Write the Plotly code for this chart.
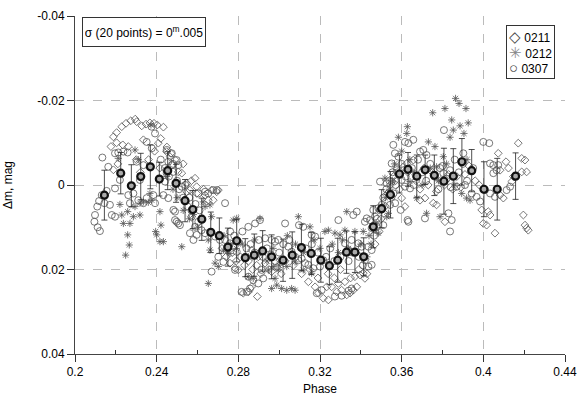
import plotly.graph_objects as go

# ---- data: series 0211 (diamonds) ----
d_pts = [(0.2176,-0.0091),(0.2188,-0.0114),(0.2204,-0.0124),(0.2204,-0.0100),(0.2229,-0.0138),(0.2234,-0.0095),
(0.2250,-0.0146),(0.2261,-0.0091),(0.2273,-0.0152),(0.2295,-0.0156),(0.2302,-0.0150),(0.2327,-0.0140),(0.2335,-0.0107),
(0.2348,-0.0144),(0.2367,-0.0147),(0.2387,-0.0146),(0.2403,-0.0142),(0.2408,-0.0099),(0.2433,-0.0137),(0.2449,-0.0079),
(0.2465,-0.0067),(0.2188,-0.0036),(0.2210,-0.0050),(0.2300,-0.0060),(0.2320,-0.0030),(0.2360,-0.0060),(0.2390,-0.0080),
(0.2420,-0.0110),(0.2415,-0.0040),(0.2450,-0.0090),(0.2470,-0.0075),(0.2490,-0.0060),(0.2506,-0.0031),(0.2523,-0.0028),
(0.2530,-0.0050),(0.2547,-0.0004),(0.2547,0.0016),(0.2563,0.0012),(0.2570,-0.0010),(0.2588,-0.0016),(0.2596,0.0004),
(0.2596,0.0020),(0.2637,0.0024),(0.2653,0.0036),(0.2669,0.0012),(0.2677,0.0036),(0.2694,0.0016),(0.2702,0.0012),
(0.2630,0.0010),(0.2720,0.0150),(0.2740,0.0170),(0.2759,0.0185),(0.2770,0.0160),(0.2784,0.0197),(0.2790,0.0180),
(0.2800,0.0201),(0.2810,0.0170),(0.2824,0.0256),(0.2830,0.0190),(0.2849,0.0253),(0.2850,0.0180),(0.2865,0.0241),
(0.2865,0.0154),(0.2870,0.0200),(0.2890,0.0190),(0.2893,0.0264),(0.2898,0.0170),(0.2910,0.0210),(0.2931,0.0185),
(0.2950,0.0200),(0.2963,0.0205),(0.2990,0.0195),(0.3004,0.0178),(0.3010,0.0210),(0.3030,0.0180),(0.3070,0.0190),
(0.3110,0.0210),(0.3143,0.0229),(0.3150,0.0200),(0.3176,0.0241),(0.3190,0.0220),(0.3192,0.0256),(0.3216,0.0268),
(0.3233,0.0241),(0.3240,0.0210),(0.3241,0.0272),(0.3257,0.0241),(0.3270,0.0220),(0.3282,0.0253),(0.3290,0.0233),
(0.3300,0.0200),(0.3306,0.0249),(0.3322,0.0229),(0.3331,0.0260),(0.3347,0.0256),(0.3350,0.0220),(0.3363,0.0249),
(0.3371,0.0217),(0.3380,0.0241),(0.3390,0.0200),(0.3396,0.0213),(0.3412,0.0209),(0.3420,0.0221),(0.3430,0.0210),
(0.3470,0.0140),(0.3490,0.0110),(0.3500,0.0080),(0.3520,0.0050),(0.3530,0.0020),(0.3545,0.0000),(0.3560,-0.0020),
(0.3575,-0.0040),(0.3600,0.0031),(0.3616,0.0051),(0.3570,-0.0010),(0.3590,0.0010),(0.3608,-0.0043),(0.3625,-0.0051),
(0.3630,-0.0030),(0.3657,-0.0059),(0.3670,-0.0010),(0.3690,0.0036),(0.3690,0.0010),(0.3710,-0.0040),(0.3714,0.0031),
(0.3730,0.0000),(0.3750,-0.0030),(0.3755,0.0043),(0.3770,0.0015),(0.3771,0.0047),(0.3790,-0.0010),(0.3810,0.0000),
(0.3812,0.0087),(0.3830,-0.0025),(0.3850,0.0010),(0.3870,-0.0020),(0.3890,0.0005),(0.3910,-0.0025),(0.3930,-0.0045),
(0.3960,-0.0010),(0.3980,0.0000),(0.3992,0.0059),(0.4000,0.0091),(0.4016,0.0095),(0.4024,0.0063),(0.4033,0.0071),
(0.4057,0.0114),(0.4073,-0.0075),(0.4082,-0.0035),(0.4082,0.0024),(0.4098,0.0031),(0.4111,-0.0055),(0.4123,-0.0040),
(0.4139,-0.0008),(0.4147,-0.0020),(0.4171,-0.0099),(0.4188,-0.0063),(0.4188,-0.0031),(0.4196,0.0071),(0.4204,-0.0059),
(0.4204,0.0095),(0.4212,-0.0031),(0.4212,0.0102),(0.4220,0.0107)]

# ---- data: series 0212 (asterisks) ----
s_pts = [(0.2212,-0.0063),(0.2220,0.0046),(0.2229,0.0071),(0.2237,0.0091),(0.2258,0.0063),(0.2258,0.0118),(0.2266,0.0142),
(0.2248,0.0166),(0.2269,0.0091),(0.2286,0.0075),(0.2294,0.0051),(0.2294,-0.0083),(0.2310,-0.0060),(0.2318,0.0071),
(0.2318,0.0043),(0.2335,0.0040),(0.2359,0.0041),(0.2367,0.0020),(0.2376,0.0036),(0.2372,-0.0142),(0.2416,0.0063),
(0.2421,0.0095),(0.2395,0.0110),(0.2400,0.0118),(0.2416,0.0134),(0.2433,0.0134),(0.2523,0.0146),(0.2450,-0.0020),
(0.2480,0.0010),(0.2500,0.0030),(0.2530,0.0060),(0.2560,0.0080),(0.2580,0.0070),(0.2600,0.0100),(0.2628,0.0040),
(0.2637,0.0051),(0.2661,0.0047),(0.2669,0.0075),(0.2653,0.0130),(0.2661,0.0154),(0.2653,0.0233),(0.2686,0.0185),
(0.2702,0.0193),(0.2727,0.0154),(0.2743,0.0158),(0.2759,0.0162),(0.2775,0.0083),(0.2792,0.0079),(0.2730,0.0120),
(0.2760,0.0140),(0.2790,0.0150),(0.2820,0.0140),(0.2849,0.0217),(0.2873,0.0221),(0.2850,0.0170),(0.2880,0.0130),
(0.2906,0.0079),(0.2910,0.0160),(0.2940,0.0180),(0.2947,0.0201),(0.2963,0.0245),(0.2970,0.0150),(0.2971,0.0193),
(0.2980,0.0221),(0.2988,0.0237),(0.2996,0.0201),(0.3000,0.0190),(0.3012,0.0245),(0.3037,0.0249),(0.3037,0.0193),
(0.3040,0.0120),(0.3061,0.0245),(0.3078,0.0249),(0.3078,0.0182),(0.3080,0.0140),(0.3094,0.0075),(0.3118,0.0201),
(0.3120,0.0160),(0.3151,0.0099),(0.3159,0.0209),(0.3170,0.0130),(0.3200,0.0150),(0.3224,0.0110),(0.3241,0.0107),
(0.3260,0.0140),(0.3273,0.0114),(0.3290,0.0160),(0.3298,0.0118),(0.3310,0.0130),(0.3322,0.0107),(0.3331,0.0063),
(0.3340,0.0150),(0.3371,0.0110),(0.3380,0.0160),(0.3400,0.0140),(0.3412,0.0110),(0.3430,0.0170),(0.3440,0.0120),
(0.3450,0.0140),(0.3469,0.0107),(0.3475,0.0090),(0.3486,0.0114),(0.3505,0.0050),(0.3520,0.0030),(0.3527,0.0075),
(0.3535,0.0067),(0.3540,0.0010),(0.3518,-0.0016),(0.3555,-0.0010),(0.3565,-0.0050),(0.3584,-0.0113),(0.3600,-0.0080),
(0.3625,-0.0122),(0.3628,-0.0138),(0.3640,-0.0060),(0.3641,-0.0008),(0.3660,-0.0030),(0.3674,0.0031),(0.3700,0.0000),
(0.3722,0.0067),(0.3731,-0.0102),(0.3740,-0.0040),(0.3752,-0.0171),(0.3763,-0.0091),(0.3771,-0.0043),(0.3780,-0.0010),
(0.3788,0.0075),(0.3804,-0.0067),(0.3812,-0.0181),(0.3820,-0.0050),(0.3837,-0.0113),(0.3845,-0.0154),(0.3853,-0.0130),
(0.3860,0.0000),(0.3864,-0.0205),(0.3881,-0.0193),(0.3886,-0.0140),(0.3894,0.0020),(0.3905,-0.0122),(0.3915,-0.0181),
(0.3918,0.0031),(0.3920,-0.0060),(0.3926,-0.0147),(0.3935,0.0036)]

# ---- data: series 0307 (circles) ----
c_pts = [(0.2095,0.0087),(0.2098,0.0071),(0.2109,0.0051),(0.2111,0.0100),(0.2118,0.0038),(0.2122,0.0109),(0.2131,0.0024),
(0.2134,-0.0065),(0.2144,0.0043),(0.2155,0.0014),(0.2163,-0.0043),(0.2171,0.0047),(0.2180,0.0071),(0.2196,0.0075),
(0.2196,-0.0075),(0.2196,0.0008),(0.2212,-0.0077),(0.2220,-0.0012),(0.2237,-0.0079),(0.2258,-0.0077),(0.2261,0.0024),
(0.2269,0.0043),(0.2286,0.0020),(0.2302,-0.0055),(0.2310,0.0036),(0.2318,-0.0012),(0.2335,-0.0047),(0.2335,0.0043),
(0.2351,0.0031),(0.2351,-0.0102),(0.2375,-0.0138),(0.2376,-0.0087),(0.2392,-0.0122),(0.2384,0.0024),(0.2392,0.0043),
(0.2433,0.0024),(0.2441,-0.0008),(0.2457,0.0031),(0.2457,-0.0055),(0.2474,-0.0047),(0.2481,-0.0031),(0.2490,0.0063),
(0.2498,0.0087),(0.2514,0.0095),(0.2420,-0.0060),(0.2440,-0.0040),(0.2449,-0.0083),(0.2449,-0.0028),(0.2460,-0.0020),
(0.2474,-0.0075),(0.2480,-0.0050),(0.2482,0.0059),(0.2490,0.0083),(0.2498,-0.0059),(0.2500,-0.0010),(0.2506,-0.0047),
(0.2506,0.0091),(0.2510,0.0010),(0.2523,0.0004),(0.2530,0.0030),(0.2540,0.0000),(0.2550,0.0050),(0.2560,0.0030),
(0.2563,0.0114),(0.2570,0.0060),(0.2571,0.0075),(0.2580,0.0130),(0.2588,0.0099),(0.2590,0.0045),(0.2596,0.0118),
(0.2604,0.0020),(0.2604,0.0087),(0.2610,0.0060),(0.2620,0.0107),(0.2620,0.0080),(0.2637,0.0016),(0.2637,0.0114),
(0.2653,0.0020),(0.2669,0.0205),(0.2677,0.0012),(0.2686,0.0122),(0.2694,0.0012),(0.2702,0.0170),(0.2710,0.0130),
(0.2727,0.0182),(0.2735,0.0043),(0.2735,0.0130),(0.2759,0.0138),(0.2760,0.0110),(0.2775,0.0146),(0.2780,0.0120),
(0.2784,0.0201),(0.2792,0.0158),(0.2800,0.0135),(0.2816,0.0253),(0.2820,0.0110),(0.2840,0.0150),(0.2841,0.0253),
(0.2849,0.0099),(0.2849,0.0217),(0.2857,0.0245),(0.2860,0.0140),(0.2873,0.0225),(0.2880,0.0160),(0.2882,0.0091),
(0.2898,0.0233),(0.2900,0.0130),(0.2906,0.0083),(0.2914,0.0201),(0.2920,0.0170),(0.2922,0.0221),(0.2931,0.0126),
(0.2940,0.0150),(0.2960,0.0165),(0.2963,0.0130),(0.2980,0.0134),(0.2980,0.0180),(0.2996,0.0130),(0.3000,0.0160),
(0.3020,0.0140),(0.3029,0.0091),(0.3045,0.0146),(0.3050,0.0130),(0.3061,0.0158),(0.3078,0.0170),(0.3094,0.0178),
(0.3097,0.0095),(0.3110,0.0174),(0.3118,0.0099),(0.3127,0.0185),(0.3130,0.0150),(0.3143,0.0189),(0.3159,0.0118),
(0.3160,0.0140),(0.3167,0.0197),(0.3176,0.0122),(0.3184,0.0256),(0.3190,0.0160),(0.3200,0.0193),(0.3208,0.0249),
(0.3216,0.0178),(0.3230,0.0170),(0.3250,0.0150),(0.3270,0.0180),(0.3273,0.0264),(0.3290,0.0083),(0.3300,0.0170),
(0.3306,0.0262),(0.3322,0.0138),(0.3339,0.0154),(0.3340,0.0180),(0.3340,0.0250),(0.3355,0.0130),(0.3355,0.0245),
(0.3360,0.0160),(0.3363,0.0071),(0.3380,0.0063),(0.3388,0.0138),(0.3390,0.0170),(0.3404,0.0146),(0.3410,0.0190),
(0.3420,0.0178),(0.3420,0.0087),(0.3429,0.0079),(0.3437,0.0146),(0.3437,0.0193),(0.3445,0.0083),(0.3453,0.0154),
(0.3453,0.0189),(0.3453,0.0102),(0.3461,0.0059),(0.3465,0.0120),(0.3469,0.0075),(0.3478,0.0099),(0.3480,0.0080),
(0.3486,0.0055),(0.3494,-0.0008),(0.3495,0.0060),(0.3502,0.0047),(0.3510,0.0095),(0.3510,0.0030),(0.3525,0.0010),
(0.3527,-0.0004),(0.3535,0.0020),(0.3540,-0.0010),(0.3543,0.0047),(0.3551,-0.0008),(0.3551,0.0028),(0.3551,-0.0051),
(0.3555,-0.0030),(0.3559,-0.0095),(0.3560,0.0020),(0.3567,-0.0075),(0.3568,0.0043),(0.3570,0.0000),(0.3576,-0.0035),
(0.3584,-0.0067),(0.3592,-0.0024),(0.3595,0.0059),(0.3580,-0.0030),(0.3600,-0.0050),(0.3600,-0.0012),(0.3616,-0.0102),
(0.3616,0.0004),(0.3620,-0.0020),(0.3629,0.0083),(0.3633,-0.0099),(0.3633,0.0087),(0.3641,0.0008),(0.3650,-0.0040),
(0.3657,-0.0107),(0.3660,0.0000),(0.3680,-0.0060),(0.3690,-0.0079),(0.3700,-0.0030),(0.3706,-0.0083),(0.3714,0.0079),
(0.3720,-0.0010),(0.3722,-0.0071),(0.3740,-0.0050),(0.3760,-0.0020),(0.3780,0.0010),(0.3788,-0.0040),(0.3800,-0.0045),
(0.3804,-0.0028),(0.3807,-0.0130),(0.3820,-0.0015),(0.3829,0.0067),(0.3837,-0.0035),(0.3837,0.0110),(0.3840,0.0005),
(0.3845,0.0083),(0.3860,-0.0060),(0.3869,0.0004),(0.3880,-0.0030),(0.3900,-0.0050),(0.3902,-0.0075),(0.3910,0.0000),
(0.3920,-0.0010),(0.3943,0.0020),(0.3950,-0.0040),(0.3967,0.0028),(0.3984,0.0039),(0.4000,-0.0102),(0.4008,0.0012),
(0.4029,-0.0099),(0.4033,-0.0051),(0.4033,0.0020),(0.4049,-0.0028),(0.4049,-0.0047),(0.4057,0.0028),(0.4065,-0.0035),
(0.4073,-0.0047),(0.4114,0.0012),(0.4131,0.0004)]

# ---- data: 20-point binned means with sigma ----
bin_phase = [0.2144,0.2224,0.2276,0.2322,0.2369,0.2413,0.2454,0.2495,0.2539,0.2577,0.2621,0.2665,0.2707,0.2749,
             0.2792,0.2834,0.2878,0.2919,0.2963,0.3019,0.3064,0.3109,0.3157,0.3204,0.3246,0.3287,0.3330,0.3371,
             0.3414,0.3461,0.3502,0.3545,0.3589,0.3631,0.3674,0.3715,0.3760,0.3807,0.3853,0.3895,0.3943,0.4003,
             0.4068,0.4158]
bin_mag = [0.0024,-0.0028,0.0002,-0.0020,-0.0043,-0.0014,-0.0034,-0.0004,0.0037,0.0058,0.0081,0.0112,0.0120,0.0147,
           0.0132,0.0172,0.0166,0.0156,0.0170,0.0178,0.0166,0.0148,0.0162,0.0178,0.0191,0.0178,0.0159,0.0159,
           0.0170,0.0099,0.0056,0.0023,-0.0026,-0.0037,-0.0021,-0.0036,-0.0023,-0.0009,-0.0021,-0.0055,-0.0034,0.0010,
           0.0010,-0.0021]
bin_err = [0.0059,0.0049,0.0050,0.0055,0.0052,0.0040,0.0045,0.0045,0.0050,0.0045,0.0050,0.0048,0.0042,0.0045,
           0.0050,0.0045,0.0050,0.0048,0.0052,0.0050,0.0055,0.0055,0.0050,0.0052,0.0045,0.0052,0.0050,0.0048,
           0.0045,0.0050,0.0045,0.0055,0.0045,0.0040,0.0050,0.0035,0.0048,0.0078,0.0065,0.0055,0.0050,0.0065,
           0.0073,0.0055]

series_names = ["0211", "0212", "0307"]
legend_glyphs = ["◇", "✳", "○"]
x_ticks = [0.2, 0.24, 0.28, 0.32, 0.36, 0.4, 0.44]
x_ticktext = ["0.2", "0.24", "0.28", "0.32", "0.36", "0.4", "0.44"]
x_minor = [0.22, 0.26, 0.30, 0.34, 0.38, 0.42]
y_ticks = [-0.04, -0.02, 0, 0.02, 0.04]
y_ticktext = ["-0.04", "-0.02", "0", "0.02", "0.04"]

FONT = "Liberation Sans, Arial, sans-serif"
PT = "#555555"

fig = go.Figure()
fig.add_trace(go.Scatter(
    x=[p[0] for p in d_pts], y=[p[1] for p in d_pts], mode="markers", name=series_names[0],
    marker=dict(symbol="diamond-open", size=6, color=PT, line=dict(width=0.8, color=PT))))
fig.add_trace(go.Scatter(
    x=[p[0] for p in s_pts], y=[p[1] for p in s_pts], mode="markers", name=series_names[1],
    marker=dict(symbol="asterisk-open", size=6, color=PT, line=dict(width=0.8, color=PT))))
fig.add_trace(go.Scatter(
    x=[p[0] for p in c_pts], y=[p[1] for p in c_pts], mode="markers", name=series_names[2],
    marker=dict(symbol="circle-open", size=7, color=PT, line=dict(width=0.8, color=PT))))
fig.add_trace(go.Scatter(
    x=bin_phase, y=bin_mag, mode="markers", showlegend=False, name="mean (20 points)",
    error_y=dict(type="data", array=bin_err, visible=True, color="#222222", thickness=0.8, width=3),
    marker=dict(symbol="circle", size=7, color="#aaaaaa", line=dict(width=2.2, color="#111111"))))

glyph_colors = ["#444", "#888", "#444"]
legend_text = "<br>".join(
    f"<span style='font-size:15px;color:{c}'>{g}</span> {n}"
    for g, c, n in zip(legend_glyphs, glyph_colors, series_names))

fig.update_layout(
    width=580, height=405,
    margin=dict(l=75, r=15, t=16, b=51, autoexpand=False),
    paper_bgcolor="white", plot_bgcolor="white",
    font=dict(family=FONT, size=12, color="black"),
    showlegend=False,
    annotations=[
        dict(text="σ (20 points) = 0<sup>m</sup>.005", xref="paper", yref="paper",
             x=0.0143, y=0.997, xanchor="left", yanchor="top", showarrow=False,
             width=118, height=24, align="center", valign="middle",
             font=dict(size=12, family=FONT), bordercolor="#333333", borderwidth=1,
             borderpad=2, bgcolor="white"),
        dict(text=legend_text, xref="paper", yref="paper",
             x=0.9796, y=0.973, xanchor="right", yanchor="top", showarrow=False,
             align="left", font=dict(size=12, family=FONT), bordercolor="#333333",
             borderwidth=1, borderpad=2, bgcolor="white"),
    ],
)
fig.update_xaxes(
    range=[0.2, 0.44], tickmode="array", tickvals=x_ticks, ticktext=x_ticktext,
    ticks="outside", ticklen=7, tickcolor="#333333", automargin=False,
    showline=True, linecolor="#444444", linewidth=1,
    showgrid=True, gridcolor="#bbbbbb", griddash="dash", gridwidth=1, zeroline=False,
    minor=dict(tickvals=x_minor, ticks="inside", ticklen=4, tickcolor="#333333", showgrid=False),
    title=dict(text="Phase", font=dict(size=12), standoff=6),
    tickfont=dict(size=12))
fig.update_yaxes(
    range=[0.04, -0.04], tickmode="array", tickvals=y_ticks, ticktext=y_ticktext,
    ticks="outside", ticklen=7, tickcolor="#333333", automargin=False,
    showline=True, linecolor="#444444", linewidth=1,
    showgrid=True, gridcolor="#bbbbbb", griddash="dash", gridwidth=1, zeroline=False,
    title=dict(text="Δm, mag", font=dict(size=12), standoff=22),
    tickfont=dict(size=12))

fig.write_html("out.html", config={"displayModeBar": False},
               post_script="document.body.style.margin='0';document.body.style.padding='0';")
